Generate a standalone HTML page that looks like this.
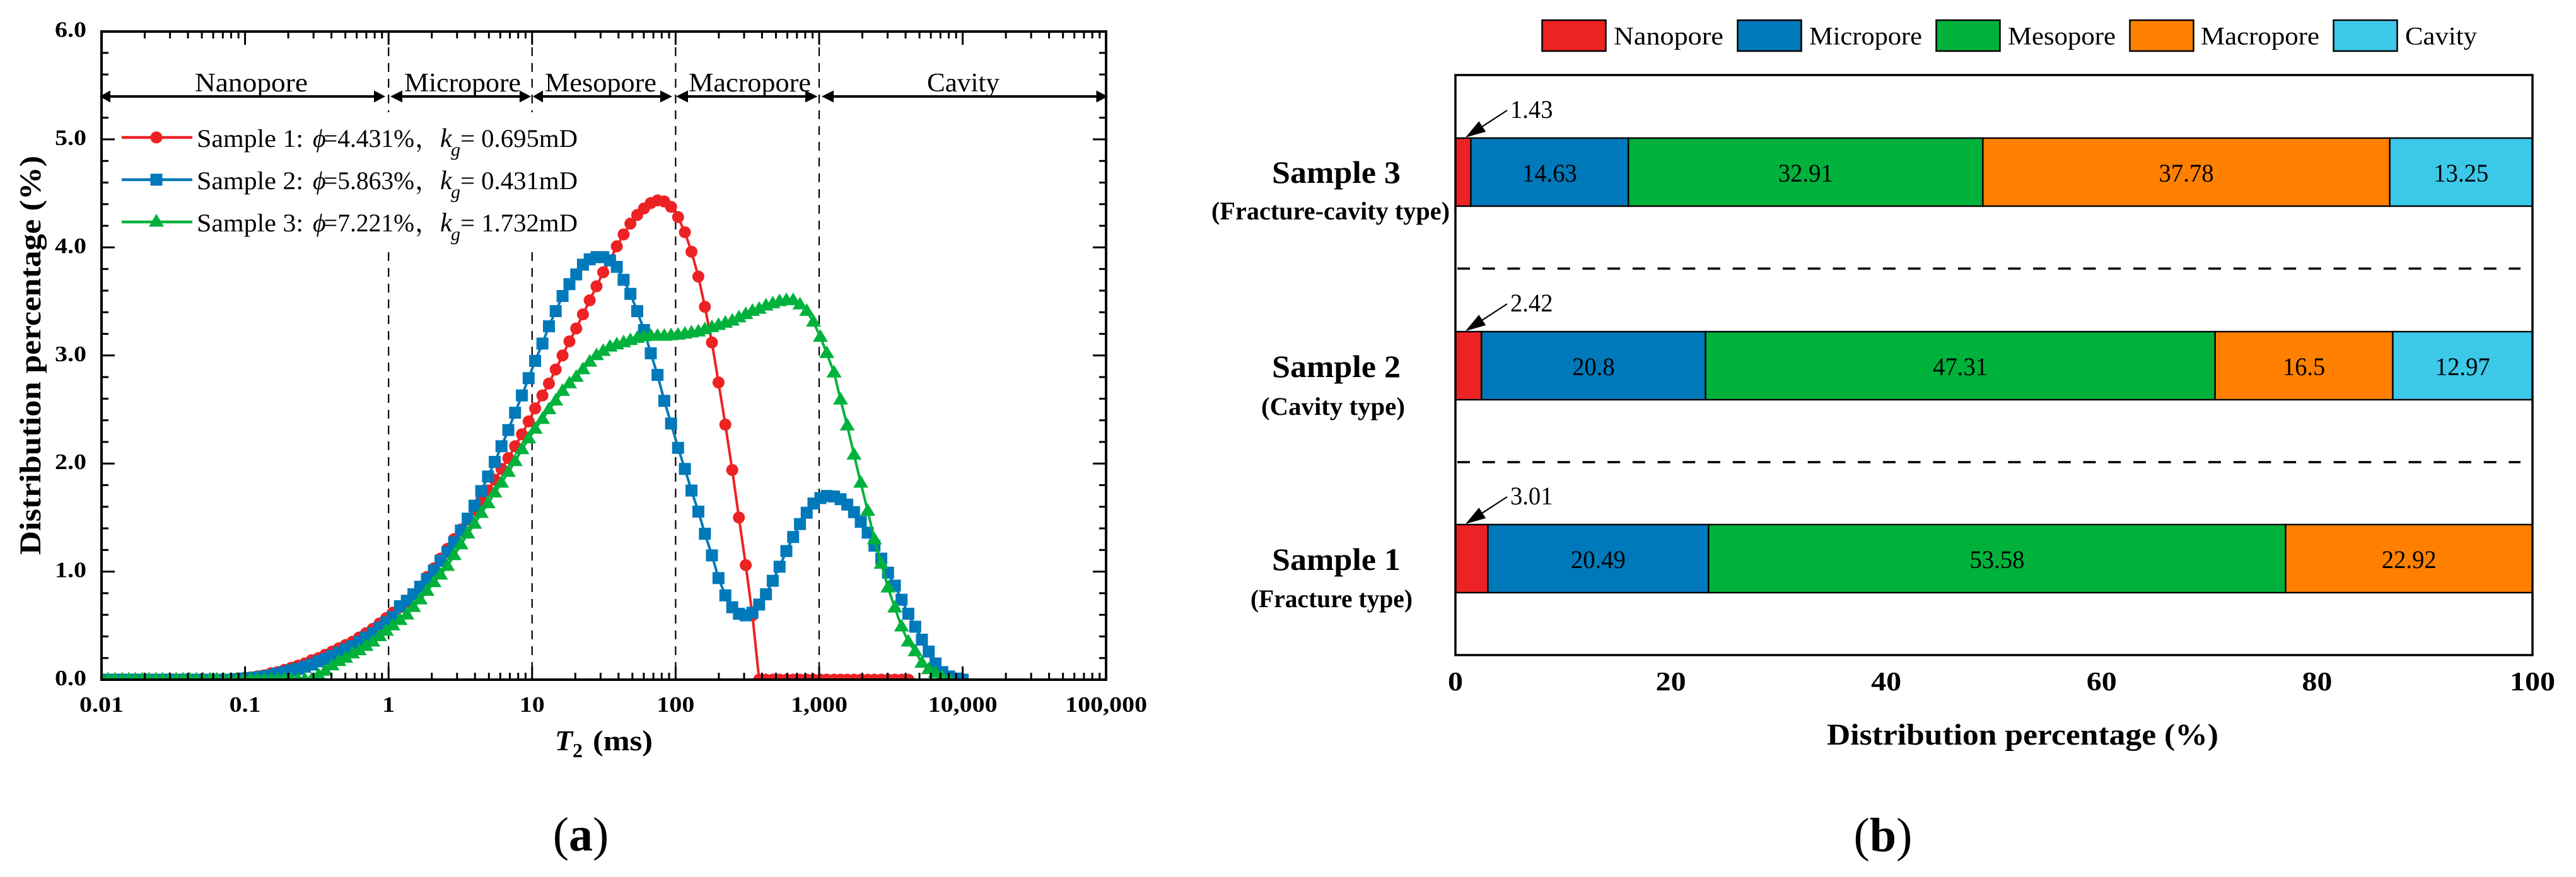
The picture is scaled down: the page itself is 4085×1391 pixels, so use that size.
<!DOCTYPE html>
<html lang="en">
<head>
<meta charset="utf-8">
<title>Pore distribution charts</title>
<style>
html,body{margin:0;padding:0;background:#fff;}
svg{display:block;}
text{font-family:"Liberation Serif","Noto Serif CJK SC",serif;fill:#000;}
.b{font-weight:bold;}
.i{font-style:italic;}
</style>
</head>
<body>
<svg id="fig" xmlns="http://www.w3.org/2000/svg" width="4085" height="1391" viewBox="0 0 4085 1391">
<rect x="0" y="0" width="4085" height="1391" fill="#fff"/>
<defs><clipPath id="plotClip"><rect x="161" y="50" width="1593" height="1028"/></clipPath></defs>

<g id="panelA">
  <g id="dashes"></g>
  <rect x="166" y="178" width="680" height="216" fill="#fff"/>
  <g id="series" clip-path="url(#plotClip)"></g>
  <g id="axesA"></g>

  <g>
    <path d="M158 153L175 143.500L175 162.500ZM593 143.500L611 153L593 162.500Z" fill="#000"/>
    <line x1="170" y1="153" x2="598" y2="153" stroke="#000" stroke-width="4"/>
    <text x="309" y="145" font-size="42" textLength="179" lengthAdjust="spacingAndGlyphs">Nanopore</text>
  </g>
  <g>
    <path d="M619 153L638 143.500L638 162.500ZM824 143.500L842 153L824 162.500Z" fill="#000"/>
    <line x1="630" y1="153" x2="830" y2="153" stroke="#000" stroke-width="4"/>
    <text x="641" y="145" font-size="42" textLength="185" lengthAdjust="spacingAndGlyphs">Micropore</text>
  </g>
  <g>
    <path d="M845 153L861 143.500L861 162.500ZM1047 143.500L1066 153L1047 162.500Z" fill="#000"/>
    <line x1="855" y1="153" x2="1052" y2="153" stroke="#000" stroke-width="4"/>
    <text x="864" y="145" font-size="42" textLength="177" lengthAdjust="spacingAndGlyphs">Mesopore</text>
  </g>
  <g>
    <path d="M1072 153L1091 143.500L1091 162.500ZM1277 143.500L1296.500 153L1277 162.500Z" fill="#000"/>
    <line x1="1085" y1="153" x2="1283" y2="153" stroke="#000" stroke-width="4"/>
    <text x="1092" y="145" font-size="42" textLength="194" lengthAdjust="spacingAndGlyphs">Macropore</text>
  </g>
  <g>
    <path d="M1303 153L1322 143.500L1322 162.500ZM1738.500 143.500L1757 153L1738.500 162.500Z" fill="#000"/>
    <line x1="1315" y1="153" x2="1745" y2="153" stroke="#000" stroke-width="4"/>
    <text x="1470" y="145" font-size="42" textLength="115" lengthAdjust="spacingAndGlyphs">Cavity</text>
  </g>

  <g id="legendA">
    <g>
      <line x1="193" y1="218" x2="305" y2="218" stroke="#ED2224" stroke-width="4.500"/>
      <circle cx="248" cy="218" r="9.500" fill="#ED2224"/>
      <text x="312" y="233" font-size="40" textLength="169" lengthAdjust="spacingAndGlyphs">Sample 1:</text>
      <text class="i" x="496" y="233" font-size="40">ϕ</text>
      <text x="513" y="233" font-size="40" textLength="144" lengthAdjust="spacingAndGlyphs">=4.431%</text>
      <text x="658" y="233" font-size="40">，</text>
      <text class="i" x="698" y="233" font-size="42">k</text>
      <text class="i" x="715" y="247" font-size="30">g</text>
      <text x="730" y="233" font-size="40" textLength="186" lengthAdjust="spacingAndGlyphs">= 0.695mD</text>
    </g>
    <g>
      <line x1="193" y1="285" x2="305" y2="285" stroke="#0079BA" stroke-width="4.500"/>
      <rect x="238.500" y="275.500" width="19" height="19" fill="#0079BA"/>
      <text x="312" y="300" font-size="40" textLength="169" lengthAdjust="spacingAndGlyphs">Sample 2:</text>
      <text class="i" x="496" y="300" font-size="40">ϕ</text>
      <text x="513" y="300" font-size="40" textLength="144" lengthAdjust="spacingAndGlyphs">=5.863%</text>
      <text x="658" y="300" font-size="40">，</text>
      <text class="i" x="698" y="300" font-size="42">k</text>
      <text class="i" x="715" y="314" font-size="30">g</text>
      <text x="730" y="300" font-size="40" textLength="186" lengthAdjust="spacingAndGlyphs">= 0.431mD</text>
    </g>
    <g>
      <line x1="193" y1="352" x2="305" y2="352" stroke="#00B23C" stroke-width="4.500"/>
      <polygon points="248,339 260,359.500 236,359.500" fill="#00B23C"/>
      <text x="312" y="367" font-size="40" textLength="169" lengthAdjust="spacingAndGlyphs">Sample 3:</text>
      <text class="i" x="496" y="367" font-size="40">ϕ</text>
      <text x="513" y="367" font-size="40" textLength="144" lengthAdjust="spacingAndGlyphs">=7.221%</text>
      <text x="658" y="367" font-size="40">，</text>
      <text class="i" x="698" y="367" font-size="42">k</text>
      <text class="i" x="715" y="381" font-size="30">g</text>
      <text x="730" y="367" font-size="40" textLength="186" lengthAdjust="spacingAndGlyphs">= 1.732mD</text>
    </g>
  </g>

  <text class="b" transform="translate(64 880) rotate(-90)" font-size="48" textLength="633" lengthAdjust="spacingAndGlyphs">Distribution percentage (%)</text>
  <g>
    <text class="b i" x="880" y="1190" font-size="46">T</text>
    <text class="b" x="908" y="1201" font-size="32">2</text>
    <text class="b" x="940" y="1190" font-size="46" textLength="95" lengthAdjust="spacingAndGlyphs">(ms)</text>
  </g>
  <text x="921" y="1349" font-size="76" text-anchor="middle">(<tspan class="b">a</tspan>)</text>
</g>

<g id="panelB">
  <g>
    <rect x="2445.500" y="32" width="101" height="49" fill="#ED2224" stroke="#000" stroke-width="2.500"/>
    <text x="2559" y="70.500" font-size="40" textLength="174" lengthAdjust="spacingAndGlyphs">Nanopore</text>
    <rect x="2755.500" y="32" width="101" height="49" fill="#0079BA" stroke="#000" stroke-width="2.500"/>
    <text x="2869" y="70.500" font-size="40" textLength="179" lengthAdjust="spacingAndGlyphs">Micropore</text>
    <rect x="3070.500" y="32" width="101" height="49" fill="#00B23C" stroke="#000" stroke-width="2.500"/>
    <text x="3184" y="70.500" font-size="40" textLength="171" lengthAdjust="spacingAndGlyphs">Mesopore</text>
    <rect x="3377.500" y="32" width="101" height="49" fill="#FF8000" stroke="#000" stroke-width="2.500"/>
    <text x="3490" y="70.500" font-size="40" textLength="188" lengthAdjust="spacingAndGlyphs">Macropore</text>
    <rect x="3700.500" y="32" width="101" height="49" fill="#3CC8E8" stroke="#000" stroke-width="2.500"/>
    <text x="3814" y="70.500" font-size="40" textLength="114" lengthAdjust="spacingAndGlyphs">Cavity</text>
  </g>
  <g id="bars"></g>
  <g id="axesB"></g>
  <line x1="2311" y1="426" x2="3997" y2="426" stroke="#000" stroke-width="3.500" stroke-dasharray="20 19.700"/>
  <line x1="2311" y1="733" x2="3997" y2="733" stroke="#000" stroke-width="3.500" stroke-dasharray="20 19.700"/>

  <text class="b" x="2017" y="290" font-size="50" textLength="204" lengthAdjust="spacingAndGlyphs">Sample 3</text>
  <text class="b" x="1921" y="348" font-size="40" textLength="378" lengthAdjust="spacingAndGlyphs">(Fracture-cavity type)</text>
  <text class="b" x="2017" y="598" font-size="50" textLength="204" lengthAdjust="spacingAndGlyphs">Sample 2</text>
  <text class="b" x="2000" y="658" font-size="40" textLength="228" lengthAdjust="spacingAndGlyphs">(Cavity type)</text>
  <text class="b" x="2017" y="904" font-size="50" textLength="204" lengthAdjust="spacingAndGlyphs">Sample 1</text>
  <text class="b" x="1983" y="963" font-size="40" textLength="257" lengthAdjust="spacingAndGlyphs">(Fracture type)</text>

  <text class="b" x="2897" y="1181" font-size="48" textLength="621" lengthAdjust="spacingAndGlyphs">Distribution percentage (%)</text>
  <text x="2986" y="1350" font-size="76" text-anchor="middle">(<tspan class="b">b</tspan>)</text>
</g>
</svg>

<script>
// ---------- Panel (a) data ----------
const t2Values = [0.0100,0.0111,0.0124,0.0139,0.0155,0.0172,0.0192,0.0214,0.0239,0.0266,
0.0297,0.0331,0.0369,0.0411,0.0458,0.0511,0.0570,0.0635,0.0708,0.0789,
0.0880,0.0982,0.109,0.122,0.136,0.152,0.169,0.188,0.210,0.234,
0.261,0.291,0.325,0.362,0.404,0.450,0.502,0.560,0.624,0.696,
0.776,0.865,0.964,1.07,1.20,1.34,1.49,1.66,1.85,2.07,
2.30,2.57,2.86,3.19,3.56,3.97,4.42,4.93,5.49,6.12,
6.83,7.61,8.49,9.46,10.5,11.8,13.1,14.6,16.3,18.2,
20.3,22.6,25.2,28.1,31.3,34.9,38.9,43.4,48.4,54.0,
60.2,67.1,74.8,83.4,93.0,104,116,129,144,160,
179,199,222,248,276,308,343,382,426,475,
530,591,659,735,819,913,1020,1130,1270,1410,
1570,1750,1950,2180,2430,2710,3020,3370,3750,4180,
4670,5200,5800,6470,7210,8040,8960,10000];

const sample1Values = [0,0,0,0,0,0,0,0,0,0,0,0,0,0,0,0,0,0,0,0,
.01,.015,.02,.03,.04,.06,.07,.09,.11,.13,
.15,.18,.20,.23,.26,.29,.32,.35,.39,.43,
.47,.52,.57,.62,.67,.72,.79,.86,.95,1.03,
1.12,1.21,1.30,1.39,1.48,1.57,1.66,1.75,1.85,1.95,
2.05,2.16,2.27,2.39,2.51,2.63,2.74,2.87,3.0,3.13,
3.25,3.38,3.51,3.64,3.77,3.88,4.01,4.12,4.22,4.30,
4.36,4.41,4.435,4.425,4.375,4.28,4.14,3.96,3.73,3.45,
3.12,2.75,2.36,1.94,1.50,1.06,.595,0,0,0,
0,0,0,0,0,0,0,0,0,0,0,0,0,0,0,0,0,0,0,0];

const sample2Values = [0,0,0,0,0,0,0,0,0,0,0,0,0,0,0,0,0,0,0,0,
.005,.01,.015,.02,.03,.04,.055,.07,.085,.10,
.12,.14,.17,.19,.22,.25,.28,.31,.35,.39,
.43,.48,.53,.58,.68,.73,.79,.86,.93,1.01,
1.10,1.18,1.27,1.38,1.49,1.61,1.745,1.88,2.015,2.16,
2.31,2.47,2.63,2.79,2.95,3.11,3.27,3.41,3.55,3.66,
3.75,3.84,3.89,3.91,3.91,3.88,3.82,3.70,3.57,3.41,
3.235,3.02,2.82,2.58,2.37,2.145,1.95,1.75,1.555,1.35,
1.15,.94,.78,.67,.61,.595,.62,.695,.79,.915,
1.045,1.19,1.32,1.44,1.545,1.63,1.68,1.70,1.695,1.67,
1.62,1.55,1.46,1.36,1.24,1.12,.99,.87,.74,.61,
.49,.37,.26,.15,.07,.03,.01,0];

const sample3Values = [0,0,0,0,0,0,0,0,0,0,0,0,0,0,0,0,0,0,0,0,0,0,0,0,0,0,0,0,0,0,0,0,
.04,.08,.13,.17,.20,.24,.27,.31,
.35,.40,.45,.50,.55,.60,.67,.74,.82,.90,
.97,1.05,1.15,1.25,1.35,1.44,1.54,1.63,1.73,1.82,
1.92,2.02,2.13,2.23,2.32,2.41,2.50,2.58,2.67,2.74,
2.80,2.87,2.94,3.0,3.04,3.08,3.10,3.12,3.14,3.16,
3.175,3.18,3.18,3.18,3.185,3.19,3.20,3.21,3.22,3.24,
3.26,3.28,3.30,3.32,3.35,3.38,3.41,3.43,3.46,3.48,
3.50,3.51,3.51,3.47,3.41,3.31,3.17,3.02,2.84,2.59,
2.35,2.08,1.82,1.56,1.295,1.07,.85,.665,.49,.35,
.26,.154,.095,.06,.02,0];

const xTickValues = [0.01,0.1,1,10,100,1000,10000,100000];
const xTickLabels = ["0.01","0.1","1","10","100","1,000","10,000","100,000"];
const xMinorMultipliers = [2,3,4,5,6,7,8,9];
const yTickValues = [0,1,2,3,4,5,6];
const yTickLabels = ["0.0","1.0","2.0","3.0","4.0","5.0","6.0"];
const yMinorValues = [0.2,0.4,0.6,0.8,1.2,1.4,1.6,1.8,2.2,2.4,2.6,2.8,3.2,3.4,3.6,3.8,4.2,4.4,4.6,4.8,5.2,5.4,5.6,5.8];
const boundaryValues = [1,10,100,1000];

// ---------- Panel (b) data ----------
const barSamples = ["sample-3","sample-2","sample-1"];
const poreClasses = ["nanopore","micropore","mesopore","macropore","cavity"];
const poreColors = ["#ED2224","#0079BA","#00B23C","#FF8000","#3CC8E8"];
const nanoporeShares = [1.43,2.42,3.01];
const microporeShares = [14.63,20.8,20.49];
const mesoporeShares = [32.91,47.31,53.58];
const macroporeShares = [37.78,16.5,22.92];
const cavityShares = [13.25,12.97,0];
const barTickValues = [0,20,40,60,80,100];
const barTickLabels = ["0","20","40","60","80","100"];

// ---------- Scales ----------
const SVGNS = "http://www.w3.org/2000/svg";
function xA(t){ return 161 + (Math.log10(t) + 2) * 227.6; }
function yA(v){ return 1078 - v * 171.4; }
function xB(p){ return 2308 + p * 17.08; }
function barTop(i){ return 219 + i * 307 + (i === 2 ? -1 : 0); }
const BAR_H = 108;

function mk(tag, name, attrs, parent, txt){
  const el = document.createElementNS(SVGNS, tag);
  
  
  for(const k in attrs){ el.setAttribute(k, attrs[k]); }
  if(txt !== undefined){ el.textContent = txt; }
  parent.appendChild(el);
  return el;
}
function labelWidth(s, digit, sep){
  let w = 0;
  for(const c of s){ w += (c === "." || c === ",") ? sep : digit; }
  return w;
}

// ---------- Panel (a) drawing ----------
const dashG = document.getElementById("dashes");
boundaryValues.forEach(function(b){
  mk("line", "boundary-line-" + b, {x1:xA(b), x2:xA(b), y1:50, y2:1078, stroke:"#000", "stroke-width":2.2, "stroke-dasharray":"14 11"}, dashG);
});

const seriesG = document.getElementById("series");
function drawSeries(values, name, color, shape){
  const g = mk("g", name, {}, seriesG);
  const pts = values.map(function(v,i){ return xA(t2Values[i]) + "," + yA(v); }).join(" ");
  mk("polyline", name + "-line", {points:pts, fill:"none", stroke:color, "stroke-width":4, "stroke-linejoin":"round"}, g);
  values.forEach(function(v,i){
    const x = xA(t2Values[i]), y = yA(v);
    if(shape === "circle"){
      mk("circle", name + "-point", {cx:x, cy:y, r:9.5, fill:color}, g);
    } else if(shape === "square"){
      mk("rect", name + "-point", {x:x-9.5, y:y-9.5, width:19, height:19, fill:color}, g);
    } else {
      mk("polygon", name + "-point", {points:x+","+(y-12.5)+" "+(x+12)+","+(y+7.5)+" "+(x-12)+","+(y+7.5), fill:color}, g);
    }
  });
}
drawSeries(sample1Values, "sample-1-series", "#ED2224", "circle");
drawSeries(sample2Values, "sample-2-series", "#0079BA", "square");
drawSeries(sample3Values, "sample-3-series", "#00B23C", "triangle");

const axA = document.getElementById("axesA");
mk("rect", "t2-plot-frame", {x:161, y:50, width:1593, height:1028, fill:"none", stroke:"#000", "stroke-width":4}, axA);
function tickA(x1,y1,x2,y2,name){
  mk("line", name, {x1:x1,y1:y1,x2:x2,y2:y2,stroke:"#000","stroke-width":3}, axA);
}
xTickValues.forEach(function(t,i){
  const x = xA(t);
  if(i > 0 && i < xTickValues.length - 1){
    tickA(x,1078,x,1057,"x-major-tick-bottom");
    tickA(x,50,x,71,"x-major-tick-top");
  }
  mk("text", "x-tick-label", {x:x, y:1129, "font-size":35, "font-weight":"bold", "text-anchor":"middle", textLength:labelWidth(xTickLabels[i],20,10), lengthAdjust:"spacingAndGlyphs"}, axA, xTickLabels[i]);
  if(i < xTickValues.length - 1){
    xMinorMultipliers.forEach(function(m){
      const xm = xA(t*m);
      tickA(xm,1078,xm,1067,"x-minor-tick-bottom");
      tickA(xm,50,xm,61,"x-minor-tick-top");
    });
  }
});
yTickValues.forEach(function(v,i){
  const y = yA(v);
  if(i > 0 && i < yTickValues.length - 1){
    tickA(161,y,182,y,"y-major-tick-left");
    tickA(1754,y,1733,y,"y-major-tick-right");
  }
  mk("text", "y-tick-label", {x:137, y:y+9, "font-size":35, "font-weight":"bold", "text-anchor":"end", textLength:labelWidth(yTickLabels[i],20,10), lengthAdjust:"spacingAndGlyphs"}, axA, yTickLabels[i]);
});
yMinorValues.forEach(function(v){
  const y = yA(v);
  tickA(161,y,172,y,"y-minor-tick-left");
  tickA(1754,y,1743,y,"y-minor-tick-right");
});

// ---------- Panel (b) drawing ----------
const barsG = document.getElementById("bars");
const shareRows = [nanoporeShares,microporeShares,mesoporeShares,macroporeShares,cavityShares];
barSamples.forEach(function(s,row){
  const g = mk("g", s + "-bar", {}, barsG);
  const top = barTop(row);
  let acc = 0;
  shareRows.forEach(function(arr,c){
    const val = arr[row];
    if(val <= 0){ return; }
    const x0 = xB(acc), x1 = xB(acc + val);
    mk("rect", s + "-" + poreClasses[c] + "-segment", {x:x0, y:top, width:x1-x0, height:BAR_H, fill:poreColors[c], stroke:"#000", "stroke-width":2.4}, g);
    if(c > 0){
      const lab = String(val);
      mk("text", s + "-" + poreClasses[c] + "-value", {x:(x0+x1)/2, y:top+BAR_H/2+15, "font-size":40, "text-anchor":"middle", textLength:labelWidth(lab,19.5,9), lengthAdjust:"spacingAndGlyphs"}, g, lab);
    }
    acc += val;
  });
  // nanopore call-out
  const tipX = 2324, tipY = top - 1;
  const tailX = tipX + 66, tailY = tipY - 43;
  const ux = 66/78.9, uy = -43/78.9, hl = 32, hw = 10;
  const bx = tipX + ux*hl, by = tipY + uy*hl;
  mk("line", s + "-callout-line", {x1:tailX, y1:tailY, x2:bx, y2:by, stroke:"#000", "stroke-width":2.2}, g);
  mk("polygon", s + "-callout-arrow", {points:tipX+","+tipY+" "+(bx-uy*hw)+","+(by+ux*hw)+" "+(bx+uy*hw)+","+(by-ux*hw), fill:"#000"}, g);
  mk("text", s + "-nanopore-value", {x:tailX+5, y:tailY+12, "font-size":40, textLength:labelWidth(String(nanoporeShares[row]),19.5,9), lengthAdjust:"spacingAndGlyphs"}, g, String(nanoporeShares[row]));
});

const axB = document.getElementById("axesB");
mk("rect", "composition-plot-frame", {x:2308, y:119, width:1708, height:920, fill:"none", stroke:"#000", "stroke-width":3.5}, axB);
barTickValues.forEach(function(v,i){
  mk("text", "composition-x-tick-label", {x:xB(v), y:1095, "font-size":42, "font-weight":"bold", "text-anchor":"middle", textLength:labelWidth(barTickLabels[i],24,10), lengthAdjust:"spacingAndGlyphs"}, axB, barTickLabels[i]);
});
</script>
</body>
</html>
